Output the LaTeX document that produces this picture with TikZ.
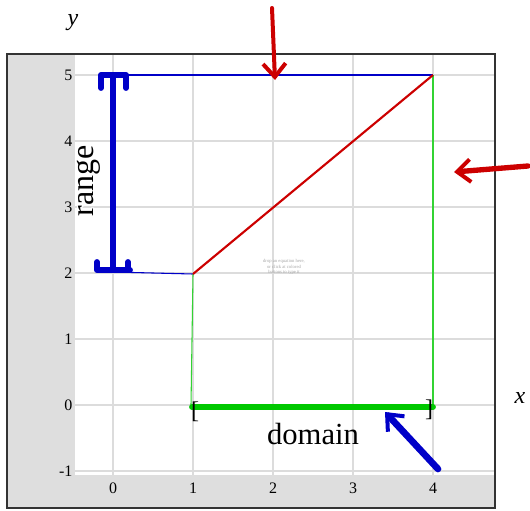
\documentclass[tikz,border=0pt]{standalone}
\usepackage{fontspec}
\setmainfont{Liberation Serif}
\usetikzlibrary{arrows.meta}
\definecolor{panelgray}{HTML}{DEDEDE}
\definecolor{gridgray}{HTML}{DCDCDC}
\definecolor{rangeblue}{HTML}{0000C8}
\definecolor{fred}{HTML}{CC0000}
\definecolor{fgreen}{HTML}{00C800}
\tikzset{
  gridline/.style={gridgray, line width=0.8pt},
  ticklbl/.style={font=\fontsize{12}{13}\selectfont, inner sep=1pt},
  thinblue/.style={rangeblue, line width=0.8pt},
  thingreen/.style={fgreen!80!white, line width=0.8pt},
  bracketblue/.style={rangeblue, line width=4.4pt, line cap=round, line join=round},
  pointer/.style={line width=3pt, line cap=round, -{Straight Barb[length=10pt, width=17pt, line width=3pt]}},
  rangetxt/.style={rotate=90, font=\fontsize{24}{26}\selectfont, inner sep=0pt},
}
\begin{document}
\begin{tikzpicture}[x=0.75pt, y=-0.75pt]
\useasboundingbox (0,0) rectangle (530,510);
% panels
\fill[panelgray] (7,54) rectangle (75,508);
\fill[panelgray] (75,475) rectangle (495,508);
% grid
\foreach \gx in {113,193,273,353,433} \draw[gridline] (\gx,54) -- (\gx,475);
\foreach \gy in {75,141,207,273,339,405,471} \draw[gridline] (75,\gy) -- (495,\gy);
% frame
\draw[line width=1pt, black!80] (7,54) rectangle (495,508);
% tick labels
\foreach \v/\gy in {5/75,4/141,3/207,2/273,1/339,0/405,-1/471}
  \node[ticklbl, anchor=east] (ty\v) at (74,\gy) {\v};
\foreach \v/\gx in {0/113,1/193,2/273,3/353,4/433}
  \node[ticklbl] (tx\v) at (\gx,488) {\v};
% axis labels
\node[font=\itshape\fontsize{18}{19}\selectfont] (ylab) at (73,23) {y};
\node[font=\itshape\fontsize{18}{19}\selectfont] (xlab) at (520,398) {x};
% coordinates
\coordinate (p1) at (193,274);
\coordinate (p2) at (433,75);
\coordinate (p0) at (191,405);
\coordinate (p4) at (433,405);
\coordinate (r5) at (113,75);
\coordinate (r2) at (113,272);
% thin lines
\draw[thinblue] (r5) -- (p2);
\draw[thinblue] (r2) -- (p1);
\draw[thingreen] (p1) -- (p0);
\draw[thingreen] (p2) -- (p4);
\draw[fred, line width=1.6pt] (p1) -- (p2);
% hint text
\node[gray!70, font=\fontsize{3.5}{4}\selectfont, align=center] (hint) at (284,267) {drop an equation here,\\or click at colored\\buttons to type it};
% range bracket
\draw[bracketblue] (101,88) -- (101,75) -- (126,75) -- (126,88);
\draw[bracketblue] (113,75) -- (113,270);
\draw[bracketblue] (97,262) -- (97,270) -- (130,270);
\draw[bracketblue] (128,262) -- (128,270);
% range label with white halo
\foreach \dx/\dy in {-1.5/0,1.5/0,0/-1.5,0/1.5,-1/-1,1/1,-1/1,1/-1}
  \node[rangetxt, text=white] at (89+\dx,181+\dy) {range};
\node[rangetxt, text=black] (range) at (89,181) {range};
% domain bracket
\draw[fgreen, line width=4.4pt, line cap=round] (192,407) -- (433,407);
\node[font=\fontsize{18}{19}\selectfont, inner sep=0pt] (lb) at (195,412) {[};
\node[font=\fontsize{18}{19}\selectfont, inner sep=0pt] (rb) at (429,410) {]};
\node[font=\fontsize{23}{25}\selectfont, inner sep=0pt] (domain) at (313,434) {domain};
% pointer arrows
\coordinate (ra0) at (272,8);
\coordinate (ra1) at (275,80);
\draw[pointer, fred] (ra0) -- (ra1);
\coordinate (rb0) at (528,166);
\coordinate (rb1) at (454,172);
\draw[pointer, fred, line width=4pt] (rb0) -- (rb1);
\coordinate (bb0) at (438,469);
\coordinate (bb1) at (385,412);
\draw[pointer, rangeblue, line width=5pt] (bb0) -- (bb1);
\end{tikzpicture}
\end{document}
